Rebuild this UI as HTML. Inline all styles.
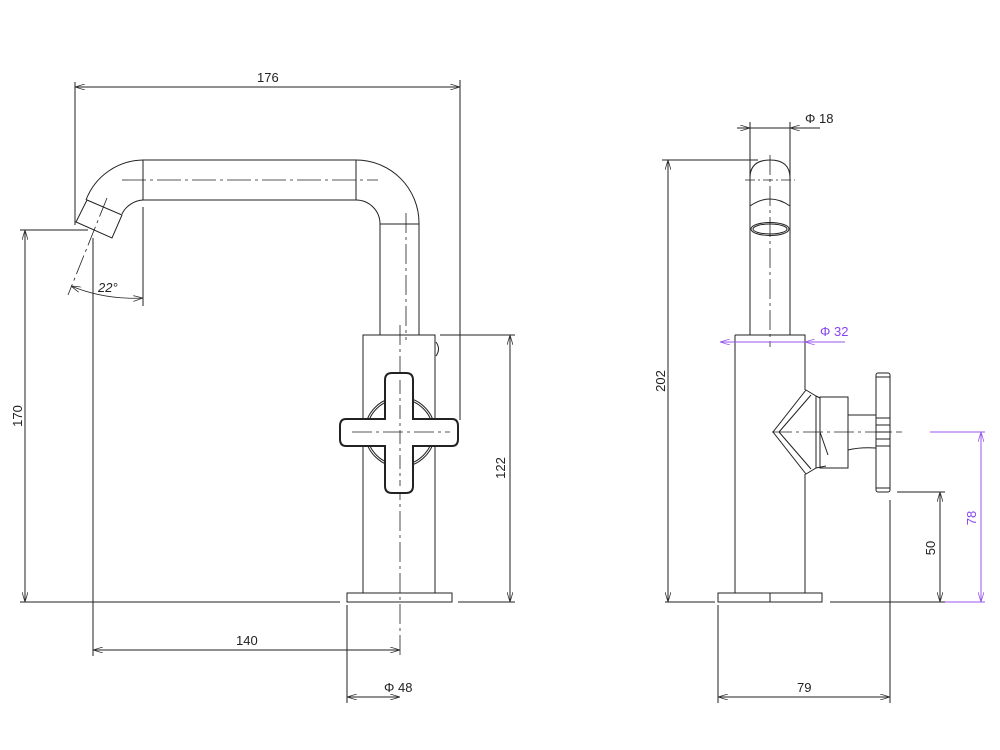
<!DOCTYPE html>
<html><head><style>body{margin:0;background:#fff}svg{display:block}text{font-family:"Liberation Sans",sans-serif;font-size:13px;fill:#222}</style></head><body>
<svg width="1000" height="750" viewBox="0 0 1000 750" xmlns="http://www.w3.org/2000/svg">
<defs>
<marker id="a" viewBox="0 0 10 6" refX="10" refY="3" markerWidth="10" markerHeight="6" orient="auto-start-reverse" markerUnits="userSpaceOnUse"><path d="M0,0 L10,3 L0,6" fill="none" stroke="#333" stroke-width="0.8"/></marker>
<marker id="p" viewBox="0 0 10 6" refX="10" refY="3" markerWidth="10" markerHeight="6" orient="auto-start-reverse" markerUnits="userSpaceOnUse"><path d="M0,0 L10,3 L0,6" fill="none" stroke="#9955ee" stroke-width="0.8"/></marker>
</defs>
<g fill="none" stroke="#222" stroke-width="1">
<line x1="75" y1="82" x2="75" y2="225"/>
<line x1="460" y1="80" x2="460" y2="420"/>
<line x1="75" y1="87" x2="460" y2="87" marker-start="url(#a)" marker-end="url(#a)"/>
<line x1="143" y1="160" x2="356" y2="160"/>
<line x1="143" y1="200" x2="356" y2="200"/>
<line x1="143" y1="160" x2="143" y2="200"/>
<line x1="356" y1="160" x2="356" y2="200"/>
<path d="M356,160 A63,63 0 0 1 419,223"/>
<path d="M356,200 A24,24 0 0 1 380,224"/>
<line x1="380" y1="224" x2="419" y2="224"/>
<line x1="380" y1="224" x2="380" y2="335"/>
<line x1="419" y1="223" x2="419" y2="335"/>
<path d="M143,160 A62,62 0 0 0 86,200"/>
<path d="M143,200 A25,25 0 0 0 122,214"/>
<polygon points="87,200 122,215 112,238 76,222"/>
<line x1="122" y1="180" x2="378" y2="180" stroke-dasharray="24,4,3,4" stroke-width="0.8"/>
<line x1="406" y1="213" x2="406" y2="340" stroke-dasharray="20,4,3,4" stroke-width="0.8"/>
<line x1="107" y1="198" x2="68" y2="295" stroke-dasharray="20,4,3,4" stroke-width="0.8"/>
<line x1="143" y1="207" x2="143" y2="306"/>
<path d="M71,286 Q105,300 143,298" marker-start="url(#a)" marker-end="url(#a)" stroke-width="0.8"/>
<line x1="20" y1="230" x2="88" y2="230"/>
<line x1="25" y1="230" x2="25" y2="602" marker-start="url(#a)" marker-end="url(#a)"/>
<line x1="93" y1="238" x2="93" y2="656"/>
<line x1="93" y1="650" x2="400" y2="650" marker-start="url(#a)" marker-end="url(#a)"/>
<line x1="20" y1="602" x2="340" y2="602"/>
<line x1="458" y1="602" x2="515" y2="602"/>
<rect x="363" y="335" width="72" height="258"/>
<rect x="347" y="593" width="105" height="9"/>
<path d="M436,342 Q441,349 436,356"/>
<line x1="400" y1="325" x2="400" y2="655" stroke-dasharray="20,4,3,4" stroke-width="0.8"/>
<line x1="440" y1="335" x2="515" y2="335"/>
<line x1="510" y1="335" x2="510" y2="602" marker-start="url(#a)" marker-end="url(#a)"/>
<circle cx="400" cy="432" r="35"/>
<circle cx="400" cy="432" r="33"/>
<path d="M385,380 Q385,373 392,373 L406,373 Q413,373 413,380 L413,419 L452,419 Q458,419 458,426 L458,439 Q458,446 452,446 L413,446 L413,486 Q413,493 406,493 L392,493 Q385,493 385,486 L385,446 L346,446 Q340,446 340,439 L340,426 Q340,419 346,419 L385,419 Z" fill="#fff" stroke-width="2"/>
<line x1="400" y1="380" x2="400" y2="486" stroke-dasharray="14,4,3,4" stroke-width="0.8"/>
<line x1="352" y1="432" x2="450" y2="432" stroke-dasharray="20,4,3,4" stroke-width="0.8"/>
<line x1="347" y1="605" x2="347" y2="703"/>
<line x1="347" y1="697" x2="400" y2="697" marker-start="url(#a)" marker-end="url(#a)"/>
<!-- RIGHT VIEW -->
<line x1="750" y1="122" x2="750" y2="335"/>
<line x1="790" y1="122" x2="790" y2="335"/>
<line x1="737" y1="128" x2="750" y2="128" marker-end="url(#a)"/>
<line x1="820" y1="128" x2="790" y2="128" marker-end="url(#a)"/>
<line x1="750" y1="128" x2="790" y2="128"/>
<path d="M750,178 Q750,160 770,160 Q790,160 790,178" fill="#fff"/>
<line x1="745" y1="180" x2="795" y2="180" stroke-dasharray="10,3,2,3" stroke-width="0.8"/>
<path d="M750,206 Q770,192 790,206"/>
<ellipse cx="770" cy="229" rx="19" ry="6.5"/>
<ellipse cx="770" cy="229" rx="17" ry="5"/>
<line x1="770" y1="155" x2="770" y2="347" stroke-dasharray="20,4,3,4" stroke-width="0.8"/>
<line x1="662" y1="160" x2="758" y2="160"/>
<line x1="668" y1="160" x2="668" y2="602" marker-start="url(#a)" marker-end="url(#a)"/>
<line x1="665" y1="602" x2="715" y2="602"/>
<line x1="830" y1="602" x2="945" y2="602"/>
<path d="M735,335 L805,335 L805,390 M805,474 L805,593"/>
<line x1="735" y1="335" x2="735" y2="593"/>
<rect x="718" y="593" width="104" height="9"/>
<line x1="770" y1="593" x2="770" y2="602"/>
<polygon points="806,390 816,396 816,468 806,474 773,432"/>
<line x1="811" y1="395" x2="779" y2="432"/><line x1="811" y1="469" x2="779" y2="432"/>
<line x1="816" y1="396" x2="820" y2="398"/><line x1="816" y1="468" x2="826" y2="466"/>
<rect x="820" y="397" width="28" height="71"/>
<line x1="820" y1="432" x2="828" y2="455"/>
<path d="M848,415 L876,415 M848,450 Q860,447 876,448"/>
<rect x="876" y="373" width="14" height="119" rx="2"/>
<line x1="876" y1="377" x2="890" y2="377"/><line x1="876" y1="488" x2="890" y2="488"/>
<line x1="876" y1="418" x2="890" y2="418"/><line x1="876" y1="425" x2="890" y2="425"/><line x1="876" y1="432" x2="890" y2="432"/><line x1="876" y1="439" x2="890" y2="439"/><line x1="876" y1="446" x2="890" y2="446"/>
<line x1="772" y1="432" x2="902" y2="432" stroke-dasharray="20,4,3,4" stroke-width="0.8"/>
<line x1="897" y1="492" x2="945" y2="492"/>
<line x1="940" y1="492" x2="940" y2="602" marker-start="url(#a)" marker-end="url(#a)"/>
<line x1="718" y1="605" x2="718" y2="703"/>
<line x1="890" y1="500" x2="890" y2="703"/>
<line x1="718" y1="697" x2="890" y2="697" marker-start="url(#a)" marker-end="url(#a)"/>
</g>
<g fill="none" stroke="#9955ee" stroke-width="1">
<line x1="720" y1="342" x2="845" y2="342"/>
<line x1="720" y1="342" x2="735" y2="342" marker-start="url(#p)"/>
<line x1="805" y1="342" x2="845" y2="342" marker-start="url(#p)"/>
<line x1="930" y1="432" x2="985" y2="432"/>
<line x1="945" y1="602" x2="985" y2="602"/>
<line x1="981" y1="432" x2="981" y2="602" marker-start="url(#p)" marker-end="url(#p)"/>
</g>
<text x="257" y="82">176</text>
<text x="98" y="292" font-style="italic">22°</text>
<text transform="translate(22,416) rotate(-90)" text-anchor="middle">170</text>
<text x="236" y="645">140</text>
<text transform="translate(505,468) rotate(-90)" text-anchor="middle">122</text>
<text x="384" y="692">Φ 48</text>
<text x="805" y="123">Φ 18</text>
<text transform="translate(665,381) rotate(-90)" text-anchor="middle">202</text>
<text x="820" y="336" style="fill:#8844ee">Φ 32</text>
<text transform="translate(935,548) rotate(-90)" text-anchor="middle">50</text>
<text transform="translate(976,518) rotate(-90)" text-anchor="middle" style="fill:#8844ee">78</text>
<text x="797" y="692">79</text>
</svg>
</body></html>
